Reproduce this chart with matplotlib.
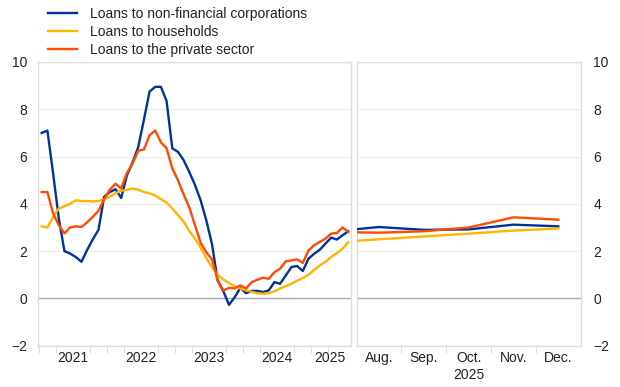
import matplotlib
matplotlib.use('Agg')
import matplotlib.pyplot as plt
from matplotlib.ticker import FixedLocator, NullFormatter

plt.rcParams['font.family'] = ['Liberation Sans', 'DejaVu Sans']
plt.rcParams['font.size'] = 10

# monthly annual growth rates (%), Jan 2021 - Jul 2025
years = ['2021', '2022', '2023', '2024', '2025']
nfc = [7.0, 7.1, 5.3, 3.4, 2.0, 1.9, 1.75, 1.55, 2.05, 2.5, 2.9, 4.3,
       4.5, 4.62, 4.25, 5.2, 5.75, 6.4, 7.55, 8.75, 8.95, 8.95, 8.35, 6.35,
       6.2, 5.85, 5.35, 4.8, 4.15, 3.3, 2.3, 0.75, 0.3, -0.27, 0.05, 0.45,
       0.22, 0.32, 0.32, 0.27, 0.34, 0.69, 0.62, 0.97, 1.33, 1.37, 1.16, 1.68,
       1.89, 2.06, 2.32, 2.57, 2.49, 2.67, 2.84]
households = [3.05, 3.0, 3.45, 3.8, 3.9, 4.0, 4.15, 4.12, 4.12, 4.1, 4.12, 4.2,
              4.3, 4.45, 4.55, 4.6, 4.65, 4.6, 4.5, 4.45, 4.35, 4.2, 4.05, 3.8,
              3.52, 3.25, 2.85, 2.53, 2.15, 1.7, 1.33, 1.0, 0.8, 0.65, 0.52, 0.42,
              0.34, 0.28, 0.22, 0.2, 0.22, 0.3, 0.42, 0.52, 0.62, 0.75, 0.86, 1.0,
              1.2, 1.4, 1.55, 1.75, 1.92, 2.1, 2.38]
private = [4.5, 4.5, 3.6, 3.1, 2.75, 3.0, 3.05, 3.02, 3.22, 3.45, 3.7, 4.2,
           4.6, 4.85, 4.65, 5.3, 5.7, 6.25, 6.3, 6.9, 7.1, 6.6, 6.35, 5.5,
           5.0, 4.4, 3.85, 3.1, 2.35, 1.95, 1.65, 0.78, 0.33, 0.45, 0.42, 0.55,
           0.42, 0.69, 0.79, 0.88, 0.83, 1.11, 1.26, 1.57, 1.61, 1.65, 1.5, 2.03,
           2.25, 2.39, 2.53, 2.74, 2.77, 3.0, 2.81]

# latest months, Jul - Dec 2025 (Jul only links the line to the left panel)
months = ['Jul.', 'Aug.', 'Sep.', 'Oct.', 'Nov.', 'Dec.']
nfc_recent = [2.84, 3.02, 2.9, 2.92, 3.12, 3.05]
households_recent = [2.38, 2.5, 2.62, 2.74, 2.87, 2.96]
private_recent = [2.81, 2.78, 2.84, 3.0, 3.43, 3.33]

labels = ['Loans to non-financial corporations', 'Loans to households',
          'Loans to the private sector']
colors = ['#003299', '#ffb400', '#ff4b00']

text_col = '#222222'
frame_col = '#dddddd'
grid_col = '#eeeeee'

fig = plt.figure(figsize=(6.2, 3.87), dpi=100)
ax1 = fig.add_axes([0.0618, 0.1067, 0.5044, 0.7331])
ax2 = fig.add_axes([0.5753, 0.1067, 0.3613, 0.7331])

x_left = list(range(len(nfc)))
x_right = list(range(len(months)))

for ax in (ax1, ax2):
    ax.set_ylim(-2, 10)
    ax.set_yticks([-2, 0, 2, 4, 6, 8, 10])
    ax.grid(axis='y', color=grid_col, linewidth=1.0)
    ax.axhline(0, color='#aaaaaa', linewidth=1.0, zorder=1)
    for s in ax.spines.values():
        s.set_color(frame_col)
        s.set_linewidth(1.0)
    ax.tick_params(axis='y', length=0, colors=text_col, labelsize=10)
    ax.tick_params(axis='x', which='both', colors=frame_col, labelcolor=text_col,
                   labelsize=10)
    ax.set_axisbelow(True)

handles = []
for series, c, lab in zip([nfc, households, private], colors, labels):
    h, = ax1.plot(x_left, series, color=c, linewidth=1.7, label=lab, zorder=3)
    handles.append(h)
for series, c in zip([nfc_recent, households_recent, private_recent], colors):
    ax2.plot(x_right, series, color=c, linewidth=1.7, zorder=3)

# left panel: years
ax1.set_xlim(-0.6, len(nfc) - 0.5)
year_pos = [12 * i + 5.5 for i in range(len(years))]
year_pos[-1] = min(year_pos[-1], len(nfc) - 0.5)
ax1.set_xticks(year_pos)
ax1.set_xticklabels(years)
ax1.get_xticklabels()[-1].set_ha('right')
ax1.tick_params(axis='x', which='major', length=0, pad=4)
edges = [12 * i - 0.5 for i in range(len(years))]
quarters = [e + q for e in edges for q in (3, 6, 9) if e + q < len(nfc)]
ax1.xaxis.set_minor_locator(FixedLocator(edges + quarters))
ax1.tick_params(axis='x', which='minor', length=5, width=0.8, direction='out')
ax1.yaxis.tick_left()
ax1.tick_params(axis='y', pad=8)

# right panel: latest months
ax2.set_xlim(0.5, len(months) - 0.5)
ax2.set_xticks(x_right[1:])
ax2.set_xticklabels(months[1:])
ax2.xaxis.set_minor_locator(FixedLocator([i + 0.5 for i in x_right[1:-1]]))
ax2.xaxis.set_minor_formatter(NullFormatter())
ax2.tick_params(axis='x', which='major', length=0, pad=4)
ax2.tick_params(axis='x', which='minor', length=5, width=0.8, direction='out')
ax2.set_xlabel('2025', color=text_col, fontsize=10, labelpad=2)
ax2.yaxis.tick_right()
ax2.tick_params(axis='y', pad=9)
for t in ax2.get_yticklabels():
    t.set_ha('left')

fig.legend(handles=handles, labels=labels, loc='upper left',
           bbox_to_anchor=(48 / 620, 1 - 7 / 387), frameon=False,
           handlelength=2.1, handletextpad=0.95, labelspacing=0.3,
           borderpad=0, borderaxespad=0, fontsize=10, labelcolor=text_col)

fig.savefig('out.png', dpi=100)
